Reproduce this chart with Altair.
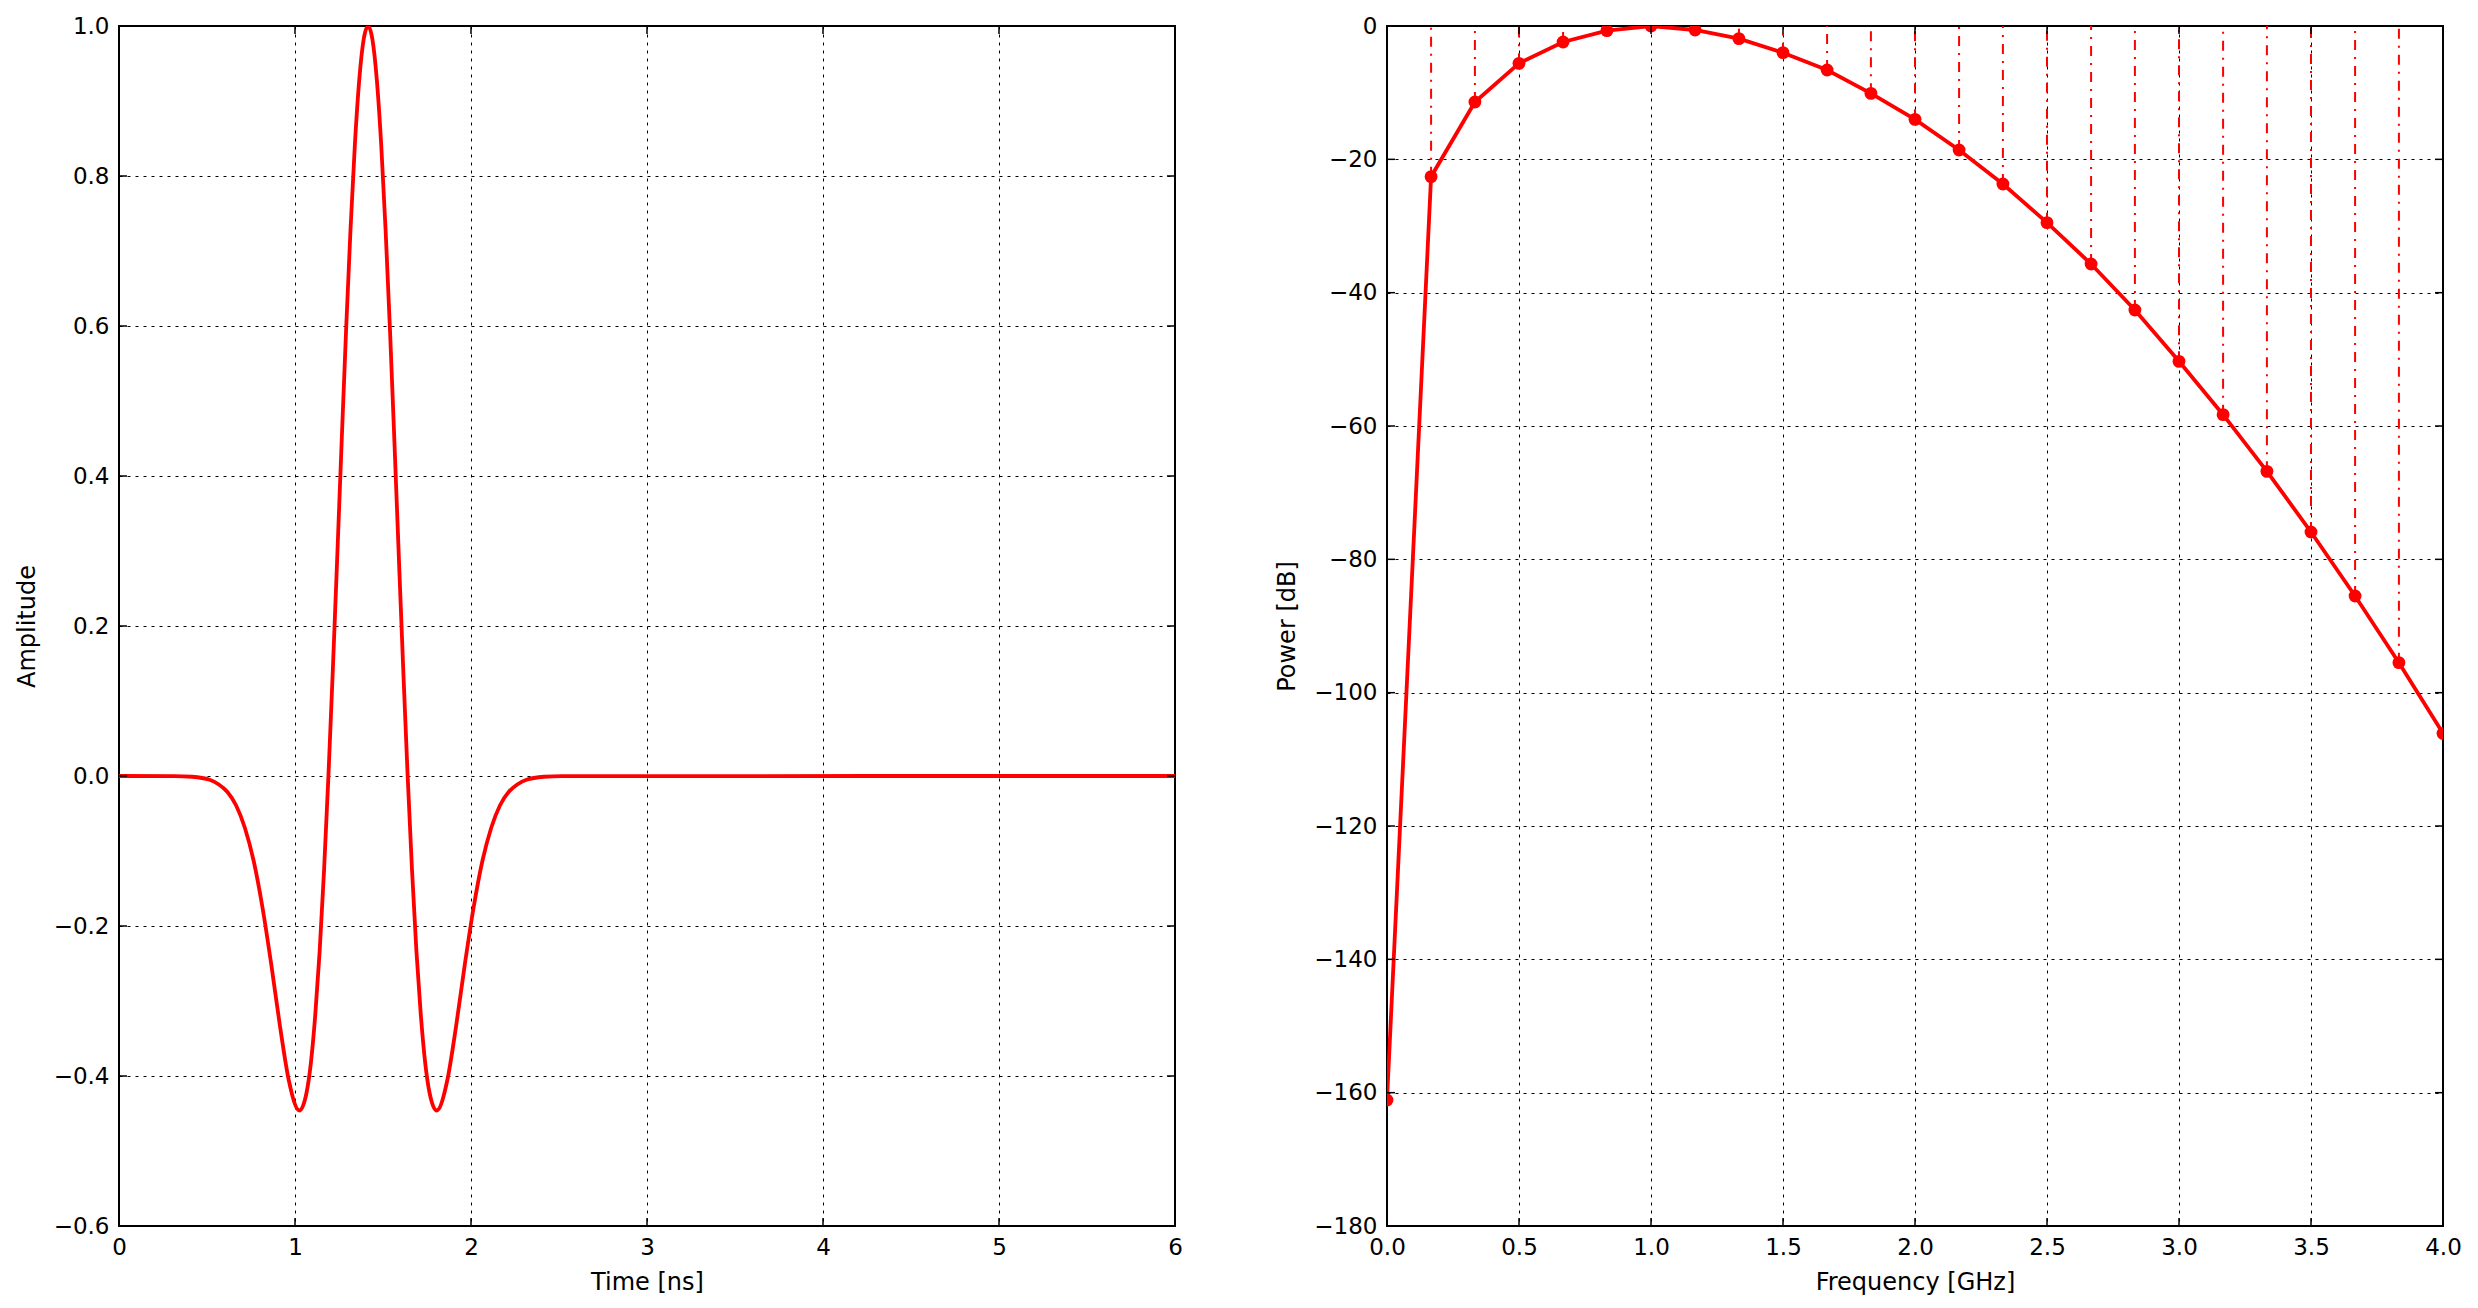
import altair as alt
import pandas as pd

# ---- Left panel: pulse in time domain ----
time_ns = [0.0, 0.315, 0.415, 0.515, 0.565, 0.615, 0.665, 0.715, 0.765, 0.815,
           0.865, 0.915, 0.965, 1.025, 1.065, 1.09, 1.115, 1.14, 1.165, 1.19,
           1.215, 1.24, 1.265, 1.29, 1.315, 1.34, 1.365, 1.39, 1.415, 1.44,
           1.465, 1.49, 1.515, 1.54, 1.565, 1.59, 1.615, 1.64, 1.665, 1.69,
           1.715, 1.74, 1.765, 1.805, 1.865, 1.915, 1.965, 2.015, 2.065, 2.115,
           2.165, 2.215, 2.265, 2.315, 2.415, 2.515, 6.0]
amplitude = [0.0, -0.0001, -0.001, -0.005, -0.011, -0.021, -0.039, -0.069, -0.113, -0.175,
             -0.251, -0.334, -0.406, -0.446, -0.423, -0.383, -0.319, -0.234, -0.126, 0.0004,
             0.142, 0.292, 0.445, 0.593, 0.727, 0.841, 0.928, 0.982, 1.0, 0.982,
             0.928, 0.841, 0.727, 0.593, 0.445, 0.292, 0.142, 0.0004, -0.126, -0.234,
             -0.319, -0.383, -0.423, -0.446, -0.406, -0.334, -0.251, -0.175, -0.113, -0.069,
             -0.039, -0.021, -0.011, -0.005, -0.001, -0.0001, 0.0]

# ---- Right panel: power spectrum ----
freq_ghz = [0.0, 0.167, 0.333, 0.5, 0.667, 0.833, 1.0, 1.167, 1.333, 1.5, 1.667, 1.833,
            2.0, 2.167, 2.333, 2.5, 2.667, 2.833, 3.0, 3.167, 3.333, 3.5, 3.667, 3.833, 4.0]
power_db = [-161.1, -22.6, -11.4, -5.6, -2.4, -0.7, 0.0, -0.6, -1.9, -4.0, -6.6, -10.1,
            -14.0, -18.6, -23.7, -29.5, -35.7, -42.6, -50.3, -58.3, -66.8, -75.9, -85.5, -95.5, -106.1]

# tick values
left_xticks = [0, 1, 2, 3, 4, 5, 6]
left_yticks = [-0.6, -0.4, -0.2, 0.0, 0.2, 0.4, 0.6, 0.8, 1.0]
right_xticks = [0.0, 0.5, 1.0, 1.5, 2.0, 2.5, 3.0, 3.5, 4.0]
right_yticks = [-180, -160, -140, -120, -100, -80, -60, -40, -20, 0]

W, H = 1056, 1200
RED = "#ff0000"
TL = 8  # inward tick length

df_pulse = pd.DataFrame({"t": time_ns, "amp": amplitude})
df_spec = pd.DataFrame({"f": freq_ghz, "p": power_db})


def inward_ticks(xvals, yvals, xe, ye, xname, yname):
    dx = pd.DataFrame({xname: xvals})
    dy = pd.DataFrame({yname: yvals})
    base_x = alt.Chart(dx).mark_rule(color="black", strokeWidth=1.5)
    base_y = alt.Chart(dy).mark_rule(color="black", strokeWidth=1.5)
    return [
        base_x.encode(x=xe, y=alt.value(H), y2=alt.value(H - TL)),
        base_x.encode(x=xe, y=alt.value(0), y2=alt.value(TL)),
        base_y.encode(y=ye, x=alt.value(0), x2=alt.value(TL)),
        base_y.encode(y=ye, x=alt.value(W - TL), x2=alt.value(W)),
    ]


# Left chart
lx = alt.Scale(domain=[0, 6], nice=False, zero=False)
ly = alt.Scale(domain=[-0.6, 1.0], nice=False, zero=False)
lxe = alt.X("t:Q", scale=lx, title="Time [ns]",
            axis=alt.Axis(values=left_xticks, format="d", titlePadding=11))
lye = alt.Y("amp:Q", scale=ly, title="Amplitude",
            axis=alt.Axis(values=left_yticks, format=".1f", titlePadding=14))

pulse_line = alt.Chart(df_pulse).mark_line(
    color=RED, strokeWidth=3.8, interpolate="monotone", clip=True
).encode(x=lxe, y=lye)

left = alt.layer(pulse_line, *inward_ticks(left_xticks, left_yticks, lxe, lye, "t", "amp")).properties(
    width=W, height=H
)

# Right chart
rx = alt.Scale(domain=[0, 4], nice=False, zero=False)
ry = alt.Scale(domain=[-180, 0], nice=False, zero=False)
rxe = alt.X("f:Q", scale=rx, title="Frequency [GHz]",
            axis=alt.Axis(values=right_xticks, format=".1f", titlePadding=11))
rye = alt.Y("p:Q", scale=ry, title="Power [dB]",
            axis=alt.Axis(values=right_yticks, format="d", titlePadding=14))

# stems on the frame edges are hidden by the frame in the original
stems = alt.Chart(df_spec).transform_filter(
    (alt.datum.f > 0) & (alt.datum.f < 4)
).mark_rule(
    color=RED, strokeWidth=2, strokeDash=[10, 7, 2, 7], clip=True
).encode(x=rxe, y=rye, y2=alt.datum(0))

spec_line = alt.Chart(df_spec).mark_line(color=RED, strokeWidth=3.8, clip=True).encode(
    x=rxe, y=rye
)

spec_pts = alt.Chart(df_spec).mark_point(
    color=RED, filled=True, opacity=1, size=165, shape="circle", clip=True
).encode(x=rxe, y=rye)

right = alt.layer(stems, spec_line, spec_pts,
                  *inward_ticks(right_xticks, right_yticks, rxe, rye, "f", "p")).properties(
    width=W, height=H
)

chart = alt.hconcat(left, right, spacing=212, bounds="flush").properties(
    padding={"left": 6, "top": 6, "right": 5, "bottom": 5},
    background="white",
).configure_view(
    stroke="black", strokeWidth=2
).configure_axis(
    labelFont="DejaVu Sans", titleFont="DejaVu Sans",
    labelFontSize=23, titleFontSize=24, titleFontWeight="normal",
    labelColor="black", titleColor="black",
    domain=False, ticks=False,
    grid=True, gridColor="black", gridDash=[3, 5], gridWidth=1, gridOpacity=1,
    labelFlush=False, labelOverlap=False, labelPadding=10,
)

chart.save("out.html", embed_options={"renderer": "svg", "actions": False})
